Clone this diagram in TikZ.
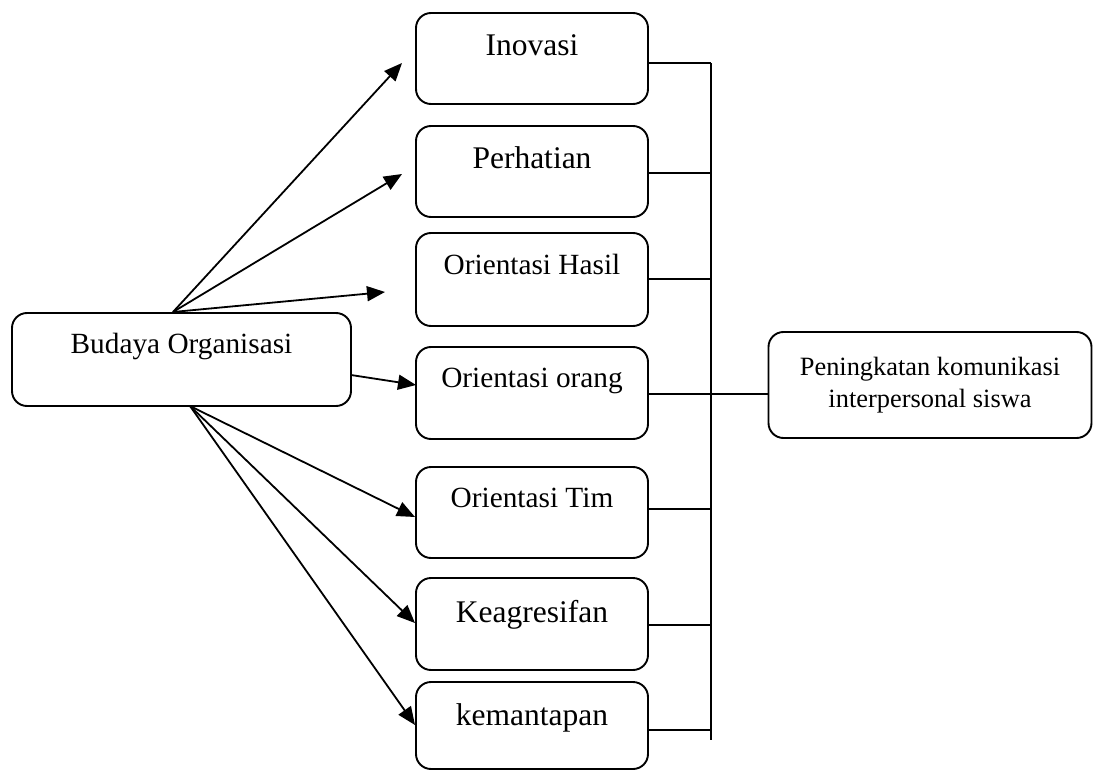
\documentclass[tikz,border=0pt]{standalone}
\usepackage{fontspec}
\setmainfont{Liberation Serif}
\usetikzlibrary{arrows.meta}
\tikzset{
  box/.style={draw, rounded corners=7.5pt, line width=0.95pt, inner sep=0pt, minimum width=116pt, anchor=base},
  big/.style={font=\fontsize{15.75pt}{18pt}\selectfont},
  mid/.style={font=\fontsize{14.65pt}{17pt}\selectfont},
  conn/.style={line width=0.9pt},
  arr/.style={conn, -{Triangle[length=9pt,width=7.5pt]}}
}
\begin{document}
\begin{tikzpicture}[x=0.5pt,y=-0.5pt]
\useasboundingbox (0,0) rectangle (1094,771);
% left box
\node[box, mid, minimum width=169.5pt, text height=20pt, text depth=26.5pt] (bud) at (181.5,353) {Budaya Organisasi};
% middle boxes
\node[box, big, text height=21pt, text depth=24.5pt] (inov) at (532,55) {Inovasi};
\node[box, big, text height=21pt, text depth=24.5pt] (perh) at (532,168) {Perhatian};
\node[box, mid, text height=20.5pt, text depth=26pt] (hasil) at (532,274) {Orientasi Hasil};
\node[box, mid, text height=20pt, text depth=26pt] (orang) at (532,387) {Orientasi orang};
\node[box, mid, text height=20pt, text depth=25.5pt] (tim) at (532,507) {Orientasi Tim};
\node[box, big, text height=22pt, text depth=24pt] (keag) at (532,622) {Keagresifan};
\node[box, big, text height=21.5pt, text depth=22pt] (kem) at (532,725) {kemantapan};
% right box
\node[draw, rounded corners=7.5pt, line width=0.95pt, inner sep=0pt, minimum width=161.5pt, minimum height=53pt,
      align=center, font=\fontsize{13.2pt}{16.5pt}\selectfont] (pen) at (930,385) {Peningkatan komunikasi\\[-0.5pt]interpersonal siswa};
% fan points and arrow tips
\coordinate (fanT) at (173,312);
\coordinate (fanB) at (190,406);
\coordinate (fanM) at (351,375);
\coordinate (t1) at (402,63);
\coordinate (t2) at (402,174);
\coordinate (t3) at (385,292);
\coordinate (t4) at (416,385);
\coordinate (t5) at (415,517);
\coordinate (t6) at (415,623);
\coordinate (t7) at (415,725);
\draw[arr] (fanT) -- (t1);
\draw[arr] (fanT) -- (t2);
\draw[arr] (fanT) -- (t3);
\draw[arr] (fanM) -- (t4);
\draw[arr] (fanB) -- (t5);
\draw[arr] (fanB) -- (t6);
\draw[arr] (fanB) -- (t7);
% collector line
\coordinate (j1) at (711,63);
\coordinate (j2) at (711,173);
\coordinate (j3) at (711,279);
\coordinate (j4) at (711,394);
\coordinate (j5) at (711,509);
\coordinate (j6) at (711,625);
\coordinate (j7) at (711,730);
\coordinate (jend) at (711,740);
\draw[conn] (j1) -- (jend);
\draw[conn] (inov.east |- j1) -- (j1);
\draw[conn] (perh.east |- j2) -- (j2);
\draw[conn] (hasil.east |- j3) -- (j3);
\draw[conn] (orang.east |- j4) -- (pen.west |- j4);
\draw[conn] (tim.east |- j5) -- (j5);
\draw[conn] (keag.east |- j6) -- (j6);
\draw[conn] (kem.east |- j7) -- (j7);
\end{tikzpicture}
\end{document}
